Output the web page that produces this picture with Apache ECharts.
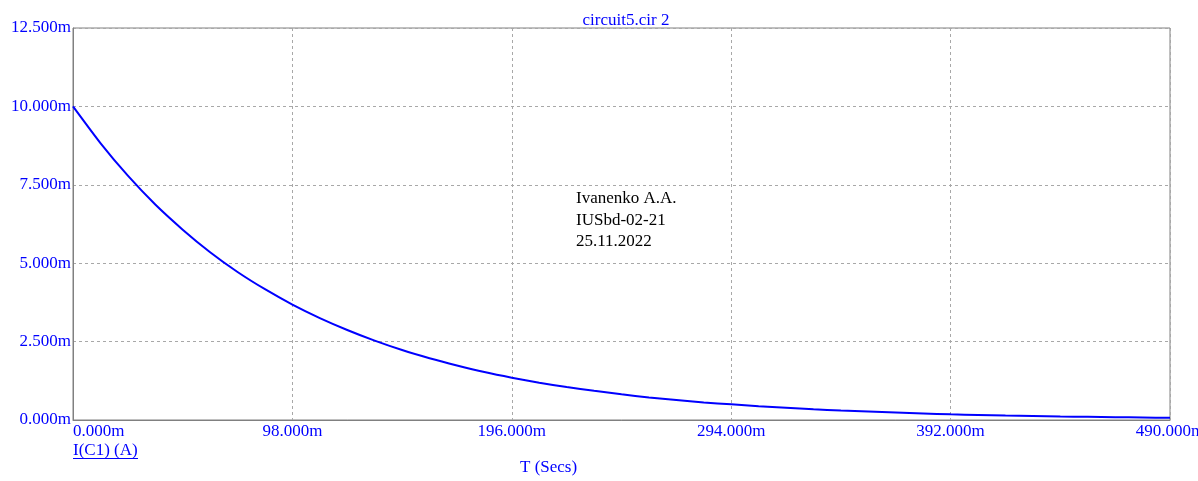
<!DOCTYPE html>
<html>
<head>
<meta charset="utf-8">
<script src="https://cdn.jsdelivr.net/npm/echarts@6/dist/echarts.min.js"></script>
<style>
html,body{margin:0;padding:0;background:#fff;}
#chart{width:1198px;height:481px;}
</style>
</head>
<body>
<div id="chart"></div>
<script>
// time points (ms) and capacitor current I(C1) (mA)
var timeMs = [0, 12.25, 24.5, 36.75, 49, 61.25, 73.5, 85.75, 98, 110.25, 122.5, 134.75, 147, 159.25, 171.5, 183.75,
	196, 208.25, 220.5, 232.75, 245, 257.25, 269.5, 281.75, 294, 306.25, 318.5, 330.75, 343, 355.25, 367.5, 379.75,
	392, 404.25, 416.5, 428.75, 441, 453.25, 465.5, 477.75, 490];
var currentMa = [10.0, 8.83, 7.79, 6.87, 6.07, 5.35, 4.72, 4.17, 3.68, 3.25, 2.87, 2.53, 2.23, 1.97, 1.74, 1.53,
	1.35, 1.19, 1.05, 0.93, 0.82, 0.72, 0.64, 0.56, 0.50, 0.44, 0.39, 0.34, 0.30, 0.27, 0.24, 0.21,
	0.18, 0.16, 0.14, 0.13, 0.11, 0.10, 0.09, 0.08, 0.07];
var noteLines = ['Ivanenko A.A.', 'IUSbd-02-21', '25.11.2022'];

var pts = [];
for (var i = 0; i < timeMs.length; i++) {
	pts.push([timeMs[i], currentMa[i]]);
}

var chart = echarts.init(document.getElementById('chart'));
var blue = '#0000ff';
var serif = '"Liberation Serif", "DejaVu Serif", serif';

var option = {
	animation: false,
	backgroundColor: '#fff',
	title: {
		text: 'circuit5.cir 2',
		left: 621,
		top: 7,
		textAlign: 'center',
		textStyle: {color: blue, fontFamily: serif, fontSize: 17, fontWeight: 'normal'}
	},
	grid: {
		left: 73,
		right: 28,
		top: 28,
		bottom: 61,
		outerBoundsMode: 'none',
		show: true,
		borderColor: '#808080',
		borderWidth: 1
	},
	xAxis: {
		type: 'value',
		min: 0,
		max: 490,
		interval: 98,
		axisLine: {show: true, lineStyle: {color: '#808080'}},
		axisTick: {show: false},
		axisLabel: {
			color: blue,
			fontFamily: serif,
			fontSize: 17,
			margin: 3,
			alignMinLabel: 'left',
			formatter: function (v) { return v.toFixed(3) + 'm'; }
		},
		splitLine: {show: true, lineStyle: {color: '#a8a8a8', type: [3, 3]}}
	},
	yAxis: {
		type: 'value',
		min: 0,
		max: 12.5,
		interval: 2.5,
		axisLine: {show: true, lineStyle: {color: '#808080'}},
		axisTick: {show: false},
		axisLabel: {
			color: blue,
			fontFamily: serif,
			fontSize: 17,
			margin: 2,
			formatter: function (v) { return v.toFixed(3) + 'm'; }
		},
		splitLine: {show: true, lineStyle: {color: '#a8a8a8', type: [3, 3]}}
	},
	series: [
		{
			name: 'I(C1)',
			type: 'line',
			data: pts,
			showSymbol: false,
			smooth: 0.2,
			lineStyle: {color: blue, width: 2}
		}
	],
	graphic: [
		{
			type: 'text',
			left: 73,
			top: 442,
			style: {text: 'I(C1) (A)', fill: blue, font: '17px ' + serif}
		},
		{
			type: 'line',
			shape: {x1: 73, y1: 458.5, x2: 138, y2: 458.5},
			style: {stroke: blue, lineWidth: 1}
		},
		{
			type: 'text',
			left: 520,
			top: 459,
			style: {text: 'T (Secs)', fill: blue, font: '17px ' + serif}
		},
		{
			type: 'text',
			left: 576,
			top: 188,
			style: {text: noteLines.join('\n'), fill: '#000', font: '17px ' + serif, lineHeight: 21.5}
		}
	]
};
chart.setOption(option);
</script>
</body>
</html>
